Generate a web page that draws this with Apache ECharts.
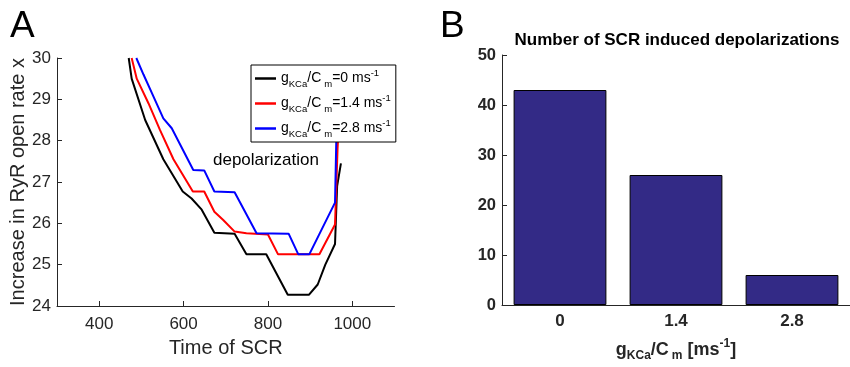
<!DOCTYPE html>
<html>
<head>
<meta charset="utf-8">
<script src="https://cdn.jsdelivr.net/npm/echarts@6/dist/echarts.min.js"></script>
<style>
  html, body { margin: 0; padding: 0; background: #fff; }
  #chart { width: 850px; height: 367px; }
</style>
</head>
<body>
<div id="chart"></div>
<script>
// panel A: [time of SCR, increase in RyR open rate]
const lineG0 = [
  [470, 30.0], [477, 29.5], [509, 28.5], [552, 27.55], [598, 26.77], [619, 26.6],
  [643, 26.33], [673, 25.77], [721, 25.75], [749, 25.25], [796, 25.25], [847, 24.27],
  [897, 24.27], [918, 24.52], [936, 25.0], [959, 25.5], [964, 26.9], [973, 27.45]
];
const lineG14 = [
  [477, 30.0], [489, 29.5], [517, 28.9], [544, 28.26], [576, 27.55], [622, 26.77],
  [649, 26.77], [673, 26.28], [694, 26.08], [721, 25.8], [749, 25.76], [800, 25.73],
  [824, 25.25], [922, 25.25], [959, 25.97], [965, 27.8], [970, 28.8]
];
const lineG28 = [
  [488, 30.0], [505, 29.6], [525, 29.15], [552, 28.54], [572, 28.3], [623, 27.29],
  [649, 27.28], [673, 26.77], [721, 26.75], [773, 25.76], [849, 25.75], [872, 25.25],
  [898, 25.25], [959, 26.5], [962, 28.0], [964, 29.0]
];
const gValues = ["0", "1.4", "2.8"];
const lineColors = ["#000000", "#ff0000", "#0000ff"];
const timeTicks = [400, 600, 800, 1000];

// panel B
const barCategories = ["0", "1.4", "2.8"];
const depolCounts = [43, 26, 6];

const FONT = "Liberation Sans";
const AXIS_COLOR = "#262626";

const chart = echarts.init(document.getElementById("chart"), null, { renderer: "canvas" });

const legendRich = {
  n: { fontFamily: FONT, fontSize: 14, lineHeight: 21, color: "#000" },
  sub: { fontFamily: FONT, fontSize: 9.5, lineHeight: 9, verticalAlign: "bottom", color: "#000" },
  subm: { fontFamily: FONT, fontSize: 9.5, lineHeight: 9, verticalAlign: "bottom", padding: [0, 0, 0, 3], color: "#000" },
  sup: { fontFamily: FONT, fontSize: 9.5, lineHeight: 9, verticalAlign: "top", color: "#000" }
};

const lineSeries = [lineG0, lineG14, lineG28].map((pts, i) => ({
  name: "g" + gValues[i],
  type: "line",
  xAxisIndex: 0,
  yAxisIndex: 0,
  data: pts,
  symbol: "none",
  smooth: false,
  clip: true,
  lineStyle: { color: lineColors[i], width: 2 },
  itemStyle: { color: lineColors[i] },
  z: 2
}));

const option = {
  animation: false,
  backgroundColor: "#fff",
  grid: [
    { left: 57, top: 58, width: 337.5, height: 248 },
    { left: 502, top: 55, width: 352, height: 252.7 }
  ],
  xAxis: [
    {
      gridIndex: 0,
      type: "value",
      min: 300,
      max: 1100,
      splitLine: { show: false },
      axisLine: { lineStyle: { color: AXIS_COLOR, width: 1 } },
      axisTick: { inside: true, length: 5, customValues: timeTicks, lineStyle: { color: AXIS_COLOR } },
      axisLabel: {
        customValues: timeTicks, color: AXIS_COLOR, fontFamily: FONT, fontSize: 17, margin: 10,
        formatter: v => String(v)
      },
      name: "Time of SCR",
      nameLocation: "middle",
      nameGap: 32,
      nameTextStyle: { color: AXIS_COLOR, fontFamily: FONT, fontSize: 20 }
    },
    {
      gridIndex: 1,
      type: "category",
      data: barCategories,
      boundaryGap: true,
      axisLine: { lineStyle: { color: AXIS_COLOR, width: 1 } },
      axisTick: { show: false },
      axisLabel: { color: AXIS_COLOR, fontFamily: FONT, fontSize: 17, fontWeight: "bold", margin: 8 },
      name: "{b|g}{sub|KCa}{b|/C}{subm|m}{b| [ms}{sup|-1}{b|]}",
      nameLocation: "middle",
      nameGap: 33,
      nameTextStyle: {
        rich: {
          b: { fontFamily: FONT, fontSize: 18, fontWeight: "bold", lineHeight: 24, color: AXIS_COLOR },
          sub: { fontFamily: FONT, fontSize: 12, fontWeight: "bold", lineHeight: 12, verticalAlign: "bottom", color: AXIS_COLOR },
          subm: { fontFamily: FONT, fontSize: 12, fontWeight: "bold", lineHeight: 12, verticalAlign: "bottom", padding: [0, 0, 0, 3], color: AXIS_COLOR },
          sup: { fontFamily: FONT, fontSize: 12, fontWeight: "bold", lineHeight: 12, verticalAlign: "top", color: AXIS_COLOR }
        }
      }
    }
  ],
  yAxis: [
    {
      gridIndex: 0,
      type: "value",
      min: 24,
      max: 30,
      interval: 1,
      splitLine: { show: false },
      axisLine: { show: true, lineStyle: { color: AXIS_COLOR, width: 1 } },
      axisTick: { show: true, inside: true, length: 5, lineStyle: { color: AXIS_COLOR } },
      axisLabel: { color: AXIS_COLOR, fontFamily: FONT, fontSize: 17, margin: 6 },
      name: "Increase in RyR open rate x",
      nameLocation: "middle",
      nameGap: 27,
      nameTextStyle: { color: AXIS_COLOR, fontFamily: FONT, fontSize: 20 }
    },
    {
      gridIndex: 1,
      type: "value",
      min: 0,
      max: 50,
      interval: 10,
      splitLine: { show: false },
      axisLine: { show: true, lineStyle: { color: AXIS_COLOR, width: 1 } },
      axisTick: { show: true, inside: true, length: 5, lineStyle: { color: AXIS_COLOR } },
      axisLabel: { color: AXIS_COLOR, fontFamily: FONT, fontSize: 16.5, fontWeight: "bold", margin: 6 }
    }
  ],
  legend: {
    data: lineSeries.map(s => ({ name: s.name, icon: "rect" })),
    orient: "vertical",
    left: 251,
    top: 65,
    padding: [3, 5, 3, 4],
    itemGap: 4,
    itemWidth: 21,
    itemHeight: 2.5,
    backgroundColor: "#fff",
    borderColor: "#000",
    borderWidth: 1,
    borderRadius: 0,
    z: 10,
    textStyle: { fontFamily: FONT, fontSize: 14, color: "#000", rich: legendRich },
    formatter: name => {
      const v = name.slice(1);
      return "{n|g}{sub|KCa}{n|/C}{subm|m}{n|=" + v + " ms}{sup|-1}";
    }
  },
  graphic: [
    { type: "text", x: 10, y: 8, style: { text: "A", font: "37px '" + FONT + "'", fill: "#000" } },
    { type: "text", x: 440, y: 8, style: { text: "B", font: "37px '" + FONT + "'", fill: "#000" } },
    { type: "text", x: 213, y: 152, style: { text: "depolarization", font: "17px '" + FONT + "'", fill: "#000" } },
    {
      type: "text", x: 677, y: 32,
      style: { text: "Number of SCR induced depolarizations", font: "bold 17px '" + FONT + "'", fill: "#000", textAlign: "center" }
    }
  ],
  series: [
    ...lineSeries,
    {
      name: "count",
      type: "bar",
      xAxisIndex: 1,
      yAxisIndex: 1,
      data: depolCounts,
      barWidth: "80%",
      itemStyle: { color: "#332A86", borderColor: "#000", borderWidth: 1 }
    }
  ]
};

chart.setOption(option);
</script>
</body>
</html>
